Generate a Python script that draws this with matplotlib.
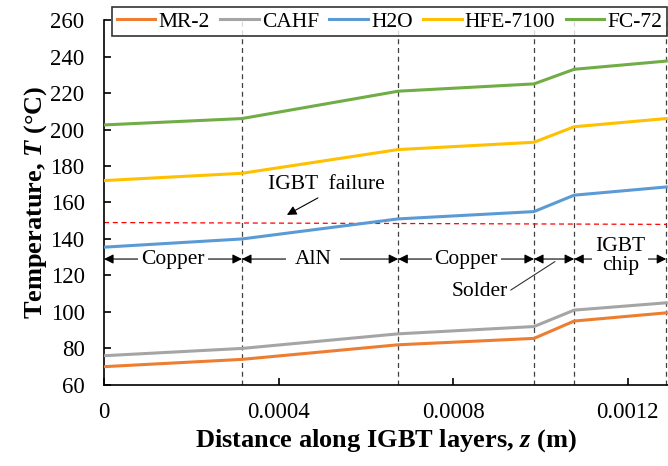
import numpy as np
import matplotlib as mpl
import matplotlib.pyplot as plt
from matplotlib.ticker import FuncFormatter, MultipleLocator

mpl.rcParams.update({
    "font.family": "serif",
    "font.serif": ["Liberation Serif", "DejaVu Serif"],
    "mathtext.fontset": "custom",
    "mathtext.rm": "Liberation Serif",
    "mathtext.it": "Liberation Serif:italic:bold",
    "mathtext.bf": "Liberation Serif:bold",
})

# layer boundaries along the stack (m): copper / AlN / copper / solder / IGBT chip
z = [0.0, 0.000316, 0.000674, 0.000985, 0.001077, 0.001288]

names = ["MR-2", "CAHF", "H2O", "HFE-7100", "FC-72"]
t_mr2 = [70.0, 74.0, 82.0, 85.5, 95.0, 99.5]
t_cahf = [76.0, 80.0, 88.0, 92.0, 101.0, 105.0]
t_h2o = [135.5, 140.0, 151.0, 155.0, 164.0, 168.5]
t_hfe = [172.0, 176.0, 189.0, 193.0, 201.5, 206.0]
t_fc72 = [202.5, 206.0, 221.0, 225.0, 233.0, 237.5]
colors = ["#ED7D31", "#A5A5A5", "#5B9BD5", "#FFC000", "#70AD47"]

t_fail = [149.0, 148.0]
z_fail = [0.0, 0.001288]

layers = ["Copper", "AlN", "Copper", "", "IGBT\nchip"]
arrow_T = 129.0

fig = plt.figure(figsize=(6.68, 4.66), dpi=100)
ax = fig.add_axes([0.1557, 0.174, 0.8443, 0.783])

# layer boundaries
for zb in z[1:]:
    ax.axvline(zb, color="#404040", lw=0.9, ls=(0, (4, 3)), zorder=1)

ax.plot(z_fail, t_fail, color="#FF0000", lw=0.9, ls=(0, (4, 3)), zorder=2)

for name, T, c in zip(names, [t_mr2, t_cahf, t_h2o, t_hfe, t_fc72], colors):
    ax.plot(z, T, color=c, lw=2.2, label=name, zorder=3, solid_joinstyle="round")

# layer thickness arrows
for (z0, z1), lab in zip(zip(z[:-1], z[1:]), layers):
    ax.annotate("", xy=(z1, arrow_T), xytext=(z0, arrow_T),
                arrowprops=dict(arrowstyle="<|-|>", color="k", lw=0.8,
                                mutation_scale=14, shrinkA=0, shrinkB=0), zorder=4)
    if lab:
        zm = 0.5 * (z0 + z1) - (0.000016 if lab == "AlN" else 0)
        yl = 130.5 if "\n" in lab else arrow_T
        ax.text(zm, yl, lab, ha="center", va="center", fontsize=15.5, zorder=5,
                linespacing=1.0,
                bbox=dict(facecolor="white", edgecolor="none",
                          pad=6.0 if lab == "AlN" else 2.0))

ax.annotate("Solder", xy=(0.001033, 127.6), xytext=(0.000861, 111.0),
            ha="center", va="center", fontsize=15.5,
            arrowprops=dict(arrowstyle="-", color="#333333", lw=0.8,
                            shrinkA=0, shrinkB=0,
                            relpos=(1.0, 0.5)), zorder=5)

ax.text(0.000509, 169.6, "IGBT  failure", ha="center", va="center", fontsize=15.5)
ax.annotate("", xy=(0.000419, 153.2), xytext=(0.00049, 162.5),
            arrowprops=dict(arrowstyle="-|>", color="k", lw=0.8,
                            mutation_scale=14, shrinkA=0, shrinkB=0))

ax.set_xlim(0, 0.001292)
ax.set_ylim(60, 260)
ax.xaxis.set_major_locator(MultipleLocator(0.0004))
ax.xaxis.set_major_formatter(FuncFormatter(lambda v, _: f"{v:g}"))
ax.yaxis.set_major_locator(MultipleLocator(20))
ax.tick_params(direction="in", length=5, width=1.2, labelsize=16.5)
ax.tick_params(axis="y", pad=14)
ax.tick_params(axis="x", pad=12)
for s in ["top", "right"]:
    ax.spines[s].set_visible(False)
for s in ["left", "bottom"]:
    ax.spines[s].set_linewidth(1.2)

ax.set_xlabel(r"Distance along IGBT layers, $\mathit{z}$ (m)", fontsize=19,
              fontweight="bold", labelpad=3)
ax.set_ylabel(r"Temperature, $\mathit{T}$ (°C)", fontsize=19,
              fontweight="bold", labelpad=1)

leg = fig.legend(loc="lower left", bbox_to_anchor=(0.168, 0.923, 0.83, 0.071),
                 mode="expand", ncol=5, fontsize=15.5, frameon=True, fancybox=False,
                 edgecolor="black", handlelength=1.8, handletextpad=0.15,
                 borderaxespad=0, borderpad=0.2, columnspacing=0.3)
leg.get_frame().set_linewidth(1.2)

fig.savefig("out.png", dpi=100)
